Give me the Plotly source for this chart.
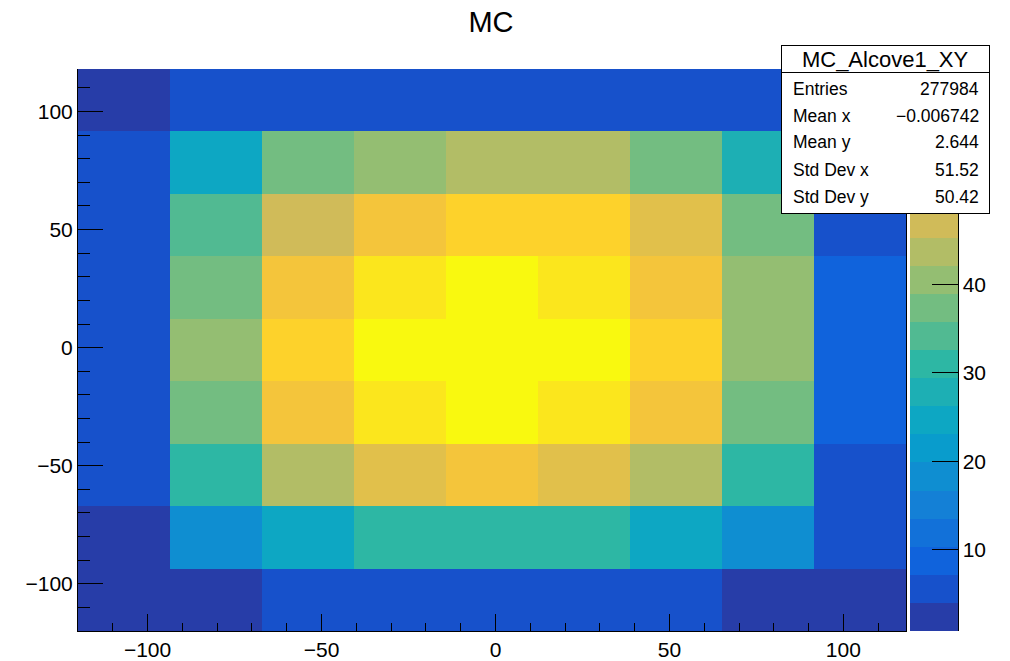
import numpy as np
import plotly.graph_objects as go

# ---------------- data ----------------
x_edges = [-120.0, -93.56, -67.11, -40.67, -14.22, 12.22, 38.67, 65.11, 91.56, 118.0]
y_edges = [-120.0, -93.56, -67.11, -40.67, -14.22, 12.22, 38.67, 65.11, 91.56, 118.0]

# bin contents, listed from the TOP row (highest y) down to the bottom row
row_y9 = [1.9, 5.3, 5.8, 6.1, 6.3, 6.0, 5.7, 5.2, 2.1]
row_y8 = [5.0, 24.5, 37.0, 40.2, 43.5, 43.9, 37.6, 27.6, 4.9]
row_y7 = [5.5, 34.0, 46.8, 53.0, 56.5, 56.2, 50.3, 37.2, 5.6]
row_y6 = [5.9, 37.5, 53.6, 59.7, 62.6, 59.9, 53.4, 40.7, 8.6]
row_y5 = [6.0, 40.4, 56.6, 62.9, 64.4, 63.1, 56.8, 40.9, 8.9]
row_y4 = [5.8, 37.3, 53.5, 59.5, 62.7, 59.8, 53.2, 37.6, 8.7]
row_y3 = [5.4, 31.1, 43.8, 50.0, 53.1, 50.2, 43.6, 30.8, 5.5]
row_y2 = [2.3, 18.4, 24.6, 30.9, 31.3, 31.0, 24.8, 18.2, 5.1]
row_y1 = [0.8, 2.6, 5.2, 5.7, 5.9, 5.8, 5.3, 2.5, 1.7]

hist_title = "MC"
stats_name = "MC_Alcove1_XY"
stats_labels = ["Entries", "Mean x", "Mean y", "Std Dev x", "Std Dev y"]
stats_values = ["277984", "\u22120.006742", "2.644", "51.52", "50.42"]

x_ticks_major = 50
x_ticks_minor = 10
z_ticks = 10
n_contours = 20

# ---------------- ROOT kBird palette, 20 contour levels ----------------
stops = [0.0, 0.125, 0.25, 0.375, 0.5, 0.625, 0.75, 0.875, 1.0]
red = [0.2082, 0.0592, 0.0780, 0.0232, 0.1802, 0.5301, 0.8186, 0.9956, 0.9764]
green = [0.1664, 0.3599, 0.5041, 0.6419, 0.7178, 0.7492, 0.7328, 0.7862, 0.9832]
blue = [0.5293, 0.8684, 0.8385, 0.7914, 0.6425, 0.4662, 0.3499, 0.1968, 0.0539]


def bird(f):
    r = np.interp(f, stops, red)
    g = np.interp(f, stops, green)
    b = np.interp(f, stops, blue)
    return "rgb(%d,%d,%d)" % (round(r * 255), round(g * 255), round(b * 255))


colorscale = []
for k in range(n_contours):
    idx = int(np.floor((k + 0.99) * 255 / n_contours))
    c = bird(idx / 255.0)
    colorscale.append([k / n_contours, c])
    colorscale.append([(k + 1) / n_contours, c])

z = [row_y1, row_y2, row_y3, row_y4, row_y5, row_y6, row_y7, row_y8, row_y9]
zmin = float(np.min(z))
zmax = float(np.max(z))

# ---------------- geometry helpers (pixel -> paper) ----------------
W, H = 1010, 661
L, R, T, B = 78, 906, 69, 631
PW, PH = R - L, B - T


def px(xp):
    return (xp - L) / PW


def py(yp):
    return (B - yp) / PH


FONT = "Liberation Sans, Arial, Helvetica, sans-serif"

fig = go.Figure()
fig.add_trace(go.Heatmap(
    x=x_edges, y=y_edges, z=z,
    zmin=zmin, zmax=zmax,
    colorscale=colorscale,
    hoverinfo="skip",
    colorbar=dict(
        x=px(910), xanchor="left", xpad=0,
        y=0.5, yanchor="middle", ypad=0,
        len=1, lenmode="fraction",
        thickness=48, thicknessmode="pixels",
        outlinewidth=0,
        ticks="inside", ticklen=26, tickwidth=1, tickcolor="black",
        tickmode="linear", tick0=0, dtick=z_ticks,
        tickfont=dict(family=FONT, size=21, color="black"),
    ),
))

axis_common = dict(
    showgrid=False, zeroline=False,
    showline=True, linecolor="black", linewidth=1,
    ticks="inside", tickcolor="black", tickwidth=1,
    tickmode="linear", tick0=0, dtick=x_ticks_major,
    tickfont=dict(family=FONT, size=21, color="black"),
)

fig.update_xaxes(
    range=[x_edges[0], x_edges[-1]], ticklen=17,
    minor=dict(ticks="inside", ticklen=8, tickcolor="black", tickwidth=1,
               dtick=x_ticks_minor, tick0=0, showgrid=False),
    **axis_common,
)
fig.update_yaxes(
    range=[y_edges[0], y_edges[-1]], ticklen=25, mirror=True,
    minor=dict(ticks="inside", ticklen=12, tickcolor="black", tickwidth=1,
               dtick=x_ticks_minor, tick0=0, showgrid=False),
    **axis_common,
)

# right edge line of the palette axis
fig.add_shape(type="line", xref="paper", yref="paper",
              x0=px(958.5), x1=px(958.5), y0=0, y1=1,
              line=dict(color="black", width=1), layer="above")

annotations = []
# stats box (annotation so that it sits above the colour bar)
box_l, box_r, box_t, box_b = 781, 989.5, 44.5, 213.5
annotations.append(dict(
    xref="paper", yref="paper", x=px((box_l + box_r) / 2), y=py((box_t + box_b) / 2),
    xanchor="center", yanchor="middle", showarrow=False, text=" ",
    width=box_r - box_l - 2, height=box_b - box_t - 2,
    bgcolor="white", bordercolor="black", borderwidth=1, borderpad=0,
))
hdr_b = 72.5
annotations.append(dict(
    xref="paper", yref="paper", x=px((box_l + box_r) / 2), y=py((box_t + hdr_b) / 2),
    xanchor="center", yanchor="middle", showarrow=False, text=stats_name,
    width=box_r - box_l - 2, height=hdr_b - box_t - 2,
    bgcolor="white", bordercolor="black", borderwidth=1, borderpad=0,
    font=dict(family=FONT, size=22, color="black"),
))
row_centers = [88.8, 115.5, 142.0, 170.0, 197.5]
for lab, val, yc in zip(stats_labels, stats_values, row_centers):
    annotations.append(dict(
        xref="paper", yref="paper", x=px(791), y=py(yc),
        xanchor="left", yanchor="middle", showarrow=False, text=lab,
        font=dict(family=FONT, size=17.5, color="black"),
    ))
    annotations.append(dict(
        xref="paper", yref="paper", x=px(980.5), y=py(yc),
        xanchor="right", yanchor="middle", showarrow=False, text=val,
        font=dict(family=FONT, size=17.5, color="black"),
    ))

fig.update_layout(
    width=W, height=H,
    margin=dict(l=L, r=W - R, t=T, b=H - B, autoexpand=False),
    paper_bgcolor="white", plot_bgcolor="white",
    title=dict(text=hist_title, x=px(491), xref="paper", xanchor="center",
               y=(H - 22.2) / H, yref="container", yanchor="middle",
               font=dict(family=FONT, size=29, color="black")),
    annotations=annotations,
    showlegend=False,
)

fig.write_html(
    "out.html",
    config={"displayModeBar": False},
    post_script="document.body.style.margin='0';document.body.style.overflow='hidden';",
)
